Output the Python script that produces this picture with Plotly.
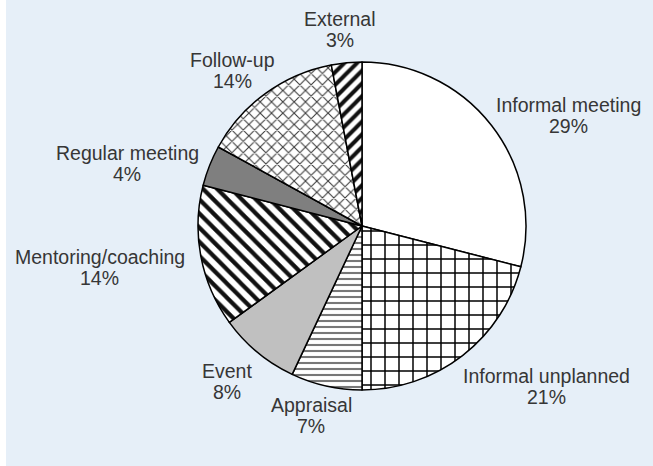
import plotly.graph_objects as go

labels = ["Informal meeting", "Informal unplanned", "Appraisal", "Event",
          "Mentoring/coaching", "Regular meeting", "Follow-up", "External"]
values = [29, 21, 7, 8, 14, 4, 14, 3]

# label anchor positions (pixel centres of the two text lines)
label_x = [568, 546, 311, 227, 100, 127, 232, 340]
label_y1 = [105, 376, 405, 371, 257, 153, 60, 19]

W, H = 653, 466
fills = ["white", "white", "white", "#c0c0c0", "white", "#7f7f7f", "white", "white"]
shapes = ["", "+", "-", "", "\\", "", "x", "/"]
fg = ["black", "black", "#777777", "black", "#111111", "black", "#3a3a3a", "#111111"]
sizes = [8, 14, 6, 8, 10, 8, 8, 9]
solid = [0.3, 0.2, 0.35, 0.3, 0.42, 0.3, 0.25, 0.45]

fig = go.Figure(go.Pie(
    labels=labels, values=values, sort=False, direction="clockwise", rotation=0,
    textinfo="none", hoverinfo="label+percent",
    marker=dict(colors=fills, line=dict(color="black", width=1.5),
                pattern=dict(shape=shapes, fgcolor=fg, bgcolor=fills, size=sizes,
                             solidity=solid, fgopacity=1, fillmode="overlay")),
    domain=dict(x=[198 / W, 526 / W], y=[1 - 390 / H, 1 - 62 / H]),
    showlegend=False,
))

font = dict(family="Liberation Sans, Arial", size=19.5, color="#363636")
anns = []
for lab, v, px, py in zip(labels, values, label_x, label_y1):
    for txt, yy in ((lab, py), (f"{v}%", py + 21)):
        anns.append(dict(x=px / W, y=1 - yy / H, xref="paper", yref="paper",
                         text=txt, showarrow=False, font=font,
                         xanchor="center", yanchor="middle"))

fig.update_layout(
    width=W, height=H, margin=dict(l=0, r=0, t=0, b=0),
    paper_bgcolor="white", plot_bgcolor="white",
    annotations=anns,
    shapes=[dict(type="rect", xref="paper", yref="paper", x0=6 / W, x1=1, y0=0, y1=1,
                 fillcolor="#e6eff8", line=dict(width=0), layer="below")],
)
fig.write_html("out.html")
